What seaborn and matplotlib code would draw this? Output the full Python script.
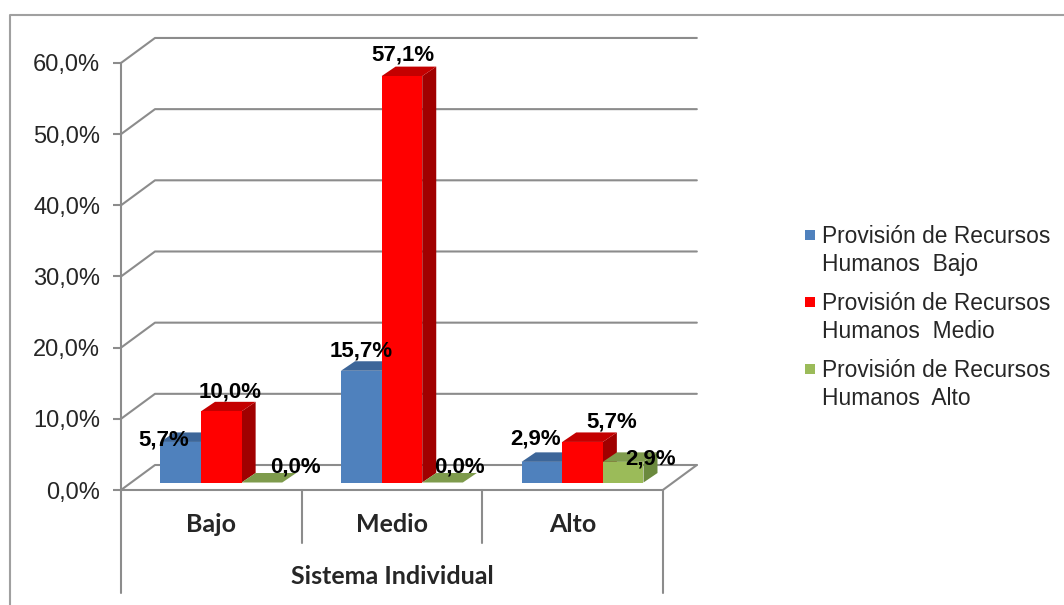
import matplotlib
matplotlib.use('Agg')
import matplotlib.pyplot as plt
from matplotlib.patches import Polygon, Rectangle
from matplotlib.lines import Line2D
import pandas as pd
import seaborn as sns

# datos (porcentajes)
niveles = ['Bajo', 'Medio', 'Alto']
prov_bajo = [5.7, 15.7, 2.9]
prov_medio = [10.0, 57.1, 5.7]
prov_alto = [0.0, 0.0, 2.9]
series = ['Provisión de Recursos\nHumanos  Bajo',
          'Provisión de Recursos\nHumanos  Medio',
          'Provisión de Recursos\nHumanos  Alto']
yticks = [0, 10, 20, 30, 40, 50, 60]
titulo_x = 'Sistema Individual'

colores = ['#4F81BD', '#FF0000', '#9BBB59']
tapas = ['#3D6699', '#C40000', '#7E9B4C']
lados = ['#345A88', '#A00000', '#6B8A3E']
gris = '#8C8C8C'

df = pd.DataFrame({
    'nivel': niveles * 3,
    'valor': prov_bajo + prov_medio + prov_alto,
    'serie': [series[0]] * 3 + [series[1]] * 3 + [series[2]] * 3,
})

sns.set_style('white')
plt.rcParams['font.family'] = ['Liberation Sans', 'DejaVu Sans']

W, H = 1064, 605
fig = plt.figure(figsize=(W / 100, H / 100), dpi=100)
# ejes: x=-0.5 en px 121, y=0 en px 490
ax_l, ax_r, ax_b, ax_t = 121, 708, 490, 34.5
ax = fig.add_axes([ax_l / W, (H - ax_b) / H, (ax_r - ax_l) / W, (ax_b - ax_t) / H])
xmin, xmax, ymin, ymax = -0.5, 2.75, 0, 64
pxx = (ax_r - ax_l) / (xmax - xmin)
pxy = (ax_b - ax_t) / (ymax - ymin)

sns.barplot(data=df, x='nivel', y='valor', hue='serie', order=niveles,
            hue_order=series, palette=colores, width=0.675, gap=0,
            saturation=1, linewidth=0, legend=False, ax=ax)

# profundidad de pared y de barras
DX, DY = 34 / pxx, 25 / pxy
SX, SY = 10 / pxx, 7.5 / pxy
BX, BY = 14 / pxx, 9.5 / pxy

# pared de fondo y piso
for v in yticks:
    ax.add_line(Line2D([xmin, xmin + DX, 2.5 + DX], [v, v + DY, v + DY],
                       color=gris, lw=1.5, zorder=1, clip_on=False))
ax.add_line(Line2D([xmin, 2.5, 2.5 + DX], [0, 0, DY], color=gris, lw=1.5,
                   zorder=1, clip_on=False))

offsets = [[(-17, 2), (0, 20), (-6, 23)],
           [(9, 19), (1, 21), (29, 20)],
           [(33, 16), (17, 16), (27, 3)]]

for k, cont in enumerate(ax.containers):
    for j, p in enumerate(cont.patches):
        p.set_x(p.get_x() + SX)
        p.set_y(SY)
        p.set_zorder(4)
        x0, w, h = p.get_x(), p.get_width(), p.get_height()
        x1, y0, y1 = x0 + w, SY, SY + h
        ax.add_patch(Polygon([(x1, y0), (x1, y1), (x1 + BX, y1 + BY), (x1 + BX, y0 + BY)],
                             closed=True, fc=lados[k], ec='none', zorder=2))
        ax.add_patch(Polygon([(x0, y1), (x1, y1), (x1 + BX, y1 + BY), (x0 + BX, y1 + BY)],
                             closed=True, fc=tapas[k], ec='none', zorder=3))
        val = df[(df.serie == series[k]) & (df.nivel == niveles[j])].valor.iloc[0]
        etiqueta = f'{val:.1f}%'.replace('.', ',')
        ax.annotate(etiqueta, (x0 + w / 2, y1), xytext=offsets[k][j],
                    textcoords='offset pixels', ha='center', va='center',
                    fontsize=16, fontweight='bold', color='black', zorder=6,
                    annotation_clip=False)

ax.set_xlim(xmin, xmax)
ax.set_ylim(ymin, ymax)
ax.set_xticks([])
ax.set_yticks(yticks)
ax.set_yticklabels([f'{v:.1f}%'.replace('.', ',') for v in yticks], fontsize=17)
ax.tick_params(axis='y', length=6, width=1.5, color=gris, pad=9, left=True)
ax.set_xlabel('')
ax.set_ylabel('')
for s in ['top', 'right', 'bottom']:
    ax.spines[s].set_visible(False)
ax.spines['left'].set_bounds(0, 60)
ax.spines['left'].set_color(gris)
ax.spines['left'].set_linewidth(1.5)
ax.patch.set_alpha(0)

# separadores y etiquetas de categoria
tr = ax.get_xaxis_transform()
for xs, yb in zip([-0.5, 0.5, 1.5, 2.5], [593, 543, 543, 593]):
    ax.add_line(Line2D([xs, xs], [0, -(yb - ax_b) / (ax_b - ax_t)], transform=tr,
                       color=gris, lw=1.5, clip_on=False))
for i, n in enumerate(niveles):
    ax.text(i, -(525 - ax_b) / (ax_b - ax_t), n, transform=tr, ha='center',
            va='center', fontsize=18, fontweight='bold', family=['Lato', 'DejaVu Sans'])
ax.text(1, -(577 - ax_b) / (ax_b - ax_t), titulo_x, transform=tr, ha='center',
        va='center', fontsize=18, fontweight='bold', family=['Lato', 'DejaVu Sans'])

# leyenda
for k, s in enumerate(series):
    ytop = 235 + 67 * k
    fig.patches.append(Rectangle((805 / W, 1 - (ytop + 5) / H), 10 / W, 10 / H,
                                 transform=fig.transFigure, fc=colores[k], ec='none'))
    fig.text(822 / W, 1 - (ytop - 10) / H, s, ha='left', va='top', fontsize=16.4,
             linespacing=1.3)

# borde del grafico
fig.add_artist(Line2D([10 / W, 10 / W, 1], [0, 1 - 15 / H, 1 - 15 / H],
                      transform=fig.transFigure, color='#A0A0A0', lw=1.5))

fig.savefig('out.png', dpi=100)
